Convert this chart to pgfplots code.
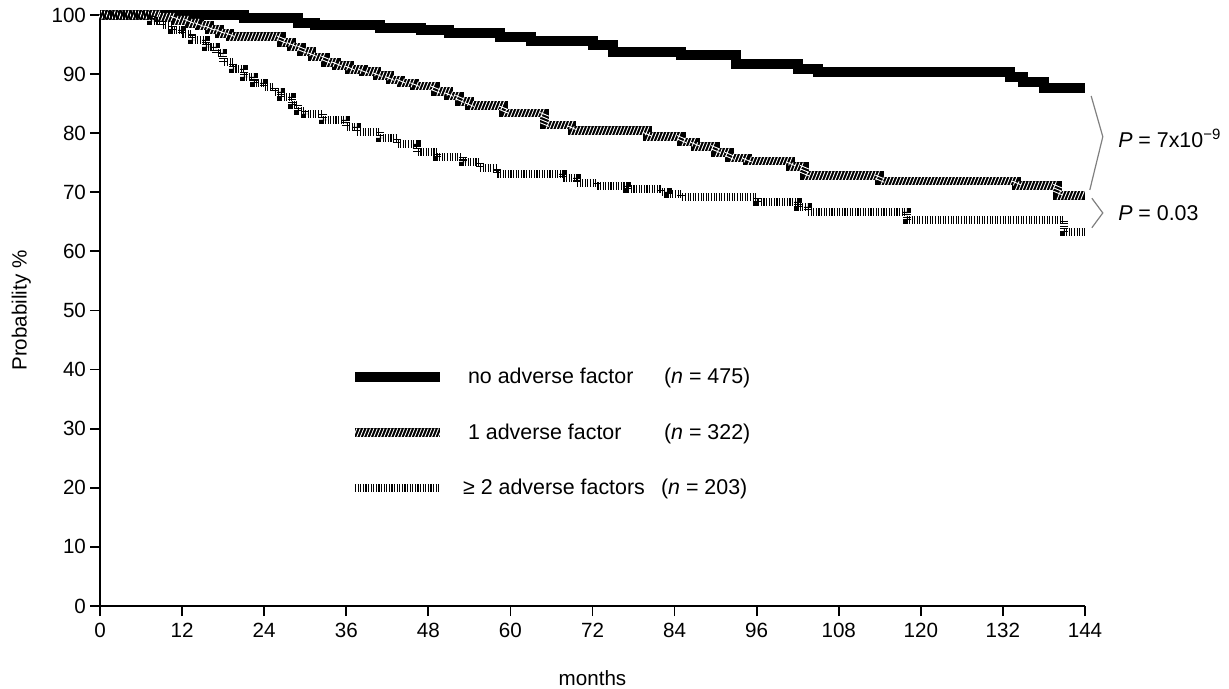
\documentclass[border=0pt]{standalone}
\usepackage{fontspec}
\setmainfont{Liberation Sans}
\usepackage{pgfplots}
\pgfplotsset{compat=1.18}
\usetikzlibrary{decorations.markings}

% line styles of the three groups
\tikzset{
  grp0/.style={black, line width=5pt},
  grp1/.style={black, line width=4.4pt,
    postaction={decorate, decoration={markings,
      mark=between positions 0 and 1 step 1.7pt with
      {\draw[white, line width=0.45pt] (-0.9pt,-2.2pt) -- (0.9pt,2.2pt);}}}},
  grp2/.style={black, line width=4pt, dash pattern=on 0.55pt off 0.75pt},
}

\begin{document}
\fontsize{10}{12}\selectfont
\begin{tikzpicture}
\path[use as bounding box] (-50pt,-41.5pt) rectangle (564.5pt,303pt);
\begin{axis}[
  at={(0,0)}, anchor=south west,
  scale only axis, width=492.5pt, height=295.5pt,
  xmin=0, xmax=144, ymin=0, ymax=100,
  axis x line*=bottom, axis y line*=left,
  axis line style={line width=0.9pt},
  xtick={0,12,...,144}, ytick={0,10,...,100},
  tick align=outside, major tick length=5pt,
  tick style={line width=0.9pt, black},
  /pgf/number format/assume math mode=true,
  tick label style={font=\fontsize{10.3}{12}\selectfont},
  yticklabel style={xshift=1.5pt},
  xlabel={months}, ylabel={Probability \%},
  label style={font=\fontsize{10.3}{12}\selectfont},
  xlabel style={at={(0.5,-0.122)}, anchor=center},
  ylabel style={at={(-0.08,0.5)}, anchor=center},
  clip=false,
  legend cell align=left,
  legend image code/.code={\draw[#1] (0pt,0pt) -- (42.5pt,0pt);},
  legend style={draw=none, fill=none, inner sep=0pt,
    at={(0.2535,0.41)}, anchor=north west,
    row sep=14.5pt,
    nodes={font=\fontsize{10.7}{12}\selectfont, inner xsep=11.5pt}},
]
\addplot[grp0, const plot] coordinates {
  (0,100) (21,99.5) (29,98.6) (31.5,98.3) (41,97.8) (47,97.4) (51,97.0)
  (58.5,96.2) (63,95.6) (72,94.9) (75,93.8) (85,93.2) (93,91.7)
  (102,90.9) (105,90.4) (133,89.5) (135,88.7) (138,87.7) (144,87.7)
};
\addlegendentry{\makebox[98pt][l]{no adverse factor}(\textit{n} = 475)}

\addplot[grp1, const plot] coordinates {
  (0,100) (8.5,99.6) (11,99.1) (13,98.6) (14.5,98.2) (16,97.5) (17.5,96.9)
  (19,96.3) (26.5,95.4) (28,94.6) (29.5,93.8) (31,92.9) (33,92.0)
  (34.6,91.4) (36.5,90.8) (38.5,90.4) (40.5,89.7) (42.4,89.0) (44,88.5)
  (46,88.0) (49,87.1) (51,86.3) (52.6,85.4) (54,84.7) (59,83.4) (65,81.4)
  (69,80.4) (80,79.4) (85,78.5) (87,77.7) (90,76.7) (92,75.8) (94.6,75.3)
  (101,74.3) (103,72.8) (114,71.9) (134,71.1) (140,69.5) (144,69.5)
};
\addlegendentry{\makebox[98pt][l]{1 adverse factor}(\textit{n} = 322)}

\addplot[grp2, const plot] coordinates {
  (0,100) (7.5,99.0) (9,98.3) (10.5,97.5) (12,96.8) (13.5,95.8) (15.5,94.5)
  (17,93.5) (18,92.0) (19.5,90.8) (21,89.5) (22.5,88.5) (24,87.8)
  (25.5,87.0) (26.5,86.2) (28,84.8) (29,83.8) (30,83.2) (32.6,82.2)
  (36,81.0) (37.6,80.2) (41,79.2) (43.4,78.2) (46.3,76.8) (49.3,76.0)
  (53,75.1) (55.5,74.1) (58,73.1) (67.7,72.4) (69.7,71.6) (72.7,71.1)
  (77,70.6) (82,70.1) (83,69.7) (85,69.2) (96,68.4) (102,67.5)
  (103.5,66.7) (118,65.3) (141,63.3) (144,63.3)
};
\addlegendentry{\hspace*{-2.5pt}\makebox[99pt][l]{≥ 2 adverse factors}(\textit{n} = 203)}

% brackets for the P values
\addplot[gray, line width=0.6pt, forget plot] coordinates {
  (144.9,86.3) (146.6,79.4) (144.7,70.4)
};
\addplot[gray, line width=0.6pt, forget plot] coordinates {
  (145.0,69.0) (146.6,66.5) (145.0,64.0)
};
\node[anchor=west, inner sep=0pt, font=\fontsize{10.7}{12}\selectfont]
  at (axis cs:148.8,79.2) {\textit{P} = 7x10\textsuperscript{−9}};
\node[anchor=west, inner sep=0pt, font=\fontsize{10.7}{12}\selectfont]
  at (axis cs:148.8,66.5) {\textit{P} = 0.03};
\end{axis}
\end{tikzpicture}
\end{document}
